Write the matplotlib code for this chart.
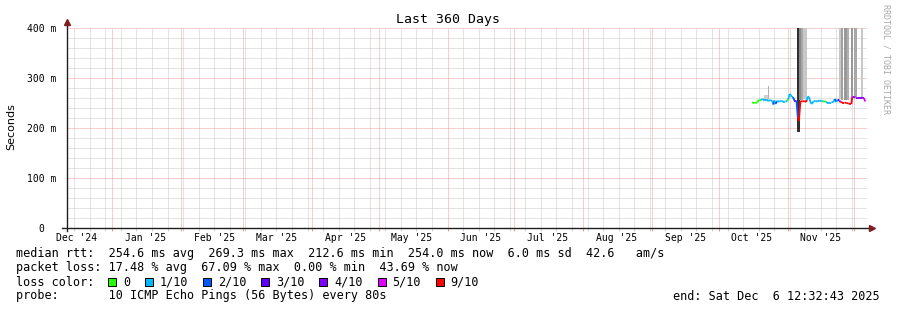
import datetime as dt
import matplotlib
matplotlib.use("Agg")
import matplotlib.pyplot as plt
import matplotlib.dates as mdates
from matplotlib.patches import Rectangle
from matplotlib.lines import Line2D

# graph window
start = dt.datetime(2024, 12, 11, 12, 32, 43)
end = dt.datetime(2025, 12, 6, 12, 32, 43)
data_base = dt.datetime(2025, 10, 1)

# median rtt: days after Oct 1 2025, value in ms, lost pings (of 10)
med_day = [15.0, 16.1, 17.4, 18.0, 19.1, 19.7, 20.6, 21.5, 22.4, 23.3,
           24.2, 24.6, 25.1, 25.5, 26.4, 27.3, 28.2, 29.1, 30.0, 30.9,
           31.3, 32.0, 32.5, 32.9, 33.4, 34.1, 35.0, 35.6, 36.1, 36.8,
           37.7, 38.6, 39.3, 39.7, 40.1, 40.6, 41.3, 41.9, 42.6, 43.5,
           44.4, 45.3, 46.2, 46.9, 47.6, 48.3, 48.9, 49.8, 50.7, 51.6,
           52.3, 53.0, 53.6, 54.3, 54.8, 55.7, 56.6, 57.5, 58.4, 59.3,
           59.7, 60.1, 60.7, 61.6, 62.5, 63.4, 64.3, 65.0, 65.4, 65.9]
med_ms = [251, 250, 251, 256, 256, 258, 255, 257, 254, 256,
          254, 247, 255, 248, 254, 253, 254, 253, 253, 254,
          258, 268, 266, 262, 262, 255, 255, 222, 214, 254,
          253, 254, 252, 256, 263, 262, 252, 248, 253, 254,
          253, 255, 254, 253, 254, 252, 251, 251, 251, 252,
          258, 252, 257, 255, 252, 251, 251, 250, 249, 248,
          248, 262, 262, 261, 261, 261, 261, 260, 260, 253]
med_loss = [0, 0, 0, 0, 1, 1, 1, 1, 1, 1,
            1, 2, 1, 2, 1, 1, 1, 1, 1, 0,
            1, 1, 1, 1, 2, 3, 2, 9, 9, 9,
            9, 9, 9, 1, 1, 1, 1, 1, 1, 1,
            1, 1, 1, 0, 0, 1, 1, 1, 1, 1,
            2, 1, 3, 4, 9, 9, 9, 9, 9, 9,
            9, 5, 4, 4, 4, 4, 4, 4, 5, 5]

# smoke (ping spread) bands
smoke_from = [20.6, 22.3, 35.3, 36.3, 37.1, 38.1, 54.3, 55.1, 56.6, 57.9, 59.6, 61.1, 64.1]
smoke_to = [22.0, 22.6, 36.4, 37.1, 38.1, 39.6, 55.1, 56.1, 57.6, 58.7, 60.6, 62.1, 65.1]
smoke_low = [257, 258, 193, 256, 256, 258, 258, 256, 256, 256, 262, 262, 262]
smoke_high = [266, 285, 420, 420, 420, 420, 420, 420, 420, 420, 420, 420, 420]
smoke_shade = ["#d0d0d0", "#b0b0b0", "#303030", "#8a8a8a", "#a8a8a8", "#c8c8c8",
               "#c8c8c8", "#a0a0a0", "#999999", "#b0b0b0", "#999999", "#a8a8a8", "#c8c8c8"]

loss_steps = [0, 1, 2, 3, 4, 5, 9]
loss_labels = ["0", "1/10", "2/10", "3/10", "4/10", "5/10", "9/10"]
loss_colors = ["#26ff00", "#00b8ff", "#0059ff", "#5e00ff", "#7e00ff", "#dd00ff", "#ff0000"]

month_names = ["Dec '24", "Jan '25", "Feb '25", "Mar '25", "Apr '25", "May '25",
               "Jun '25", "Jul '25", "Aug '25", "Sep '25", "Oct '25", "Nov '25"]

mono = "DejaVu Sans Mono"
W, H = 897, 310
fig = plt.figure(figsize=(W / 100, H / 100), dpi=100)
ax = fig.add_axes([66.5 / W, 82 / H, 800 / W, 200 / H])

color_of = dict(zip(loss_steps, loss_colors))

# smoke
for f, t, lo, hi, c in zip(smoke_from, smoke_to, smoke_low, smoke_high, smoke_shade):
    x0 = mdates.date2num(data_base + dt.timedelta(days=f))
    x1 = mdates.date2num(data_base + dt.timedelta(days=t))
    ax.bar(x0, hi - lo, width=x1 - x0, bottom=lo, align="edge", color=c,
           linewidth=0, zorder=2)

# median line coloured by loss
times = [data_base + dt.timedelta(days=d) for d in med_day]
for i in range(len(times) - 1):
    ax.plot(times[i:i + 2], med_ms[i:i + 2], color=color_of[med_loss[i]],
            lw=1.3, solid_capstyle="butt", zorder=3)

ax.set_xlim(start, end)
ax.set_ylim(0, 400)

grid_c = "#c8c8c8"
mgrid_c = "#f39c9c"
dots = (0, (1, 1))
ax.xaxis.set_major_locator(mdates.MonthLocator())
ax.xaxis.set_minor_locator(mdates.WeekdayLocator(byweekday=mdates.SU))
ax.set_yticks([0, 100, 200, 300, 400])
ax.set_yticks(range(20, 400, 20), minor=True)
ax.set_xticklabels([])
ax.set_yticklabels(["0  ", "100 m", "200 m", "300 m", "400 m"], family=mono, fontsize=7)
ax.grid(which="minor", color=grid_c, linestyle=dots, lw=0.72, zorder=0)
ax.grid(which="major", color=mgrid_c, linestyle=dots, lw=0.72, zorder=1)
ax.set_axisbelow(True)
ax.tick_params(axis="x", which="major", length=2, color=mgrid_c, direction="out")
ax.tick_params(axis="x", which="minor", length=2, color=grid_c, direction="out")
ax.tick_params(axis="y", which="both", length=0, pad=7)

for s in ax.spines.values():
    s.set_visible(False)

# axes with arrows
axis_c = "#1f1f1f"
arrow_c = "#7f1f1f"
tr = ax.transAxes
ax.add_line(Line2D([0, 0], [-0.015, 1.025], transform=tr, color=axis_c, lw=1, clip_on=False))
ax.add_line(Line2D([-0.006, 1.004], [0, 0], transform=tr, color=axis_c, lw=1, clip_on=False))
ax.plot([0], [1.03], marker="^", ms=4, color=arrow_c, transform=tr, clip_on=False)
ax.plot([1.007], [0], marker=">", ms=4, color=arrow_c, transform=tr, clip_on=False)

# month labels, centred mid-month
m_year, m_month = 2024, 12
for name in month_names:
    pos = dt.datetime(m_year, m_month, 16)
    ax.text(pos, -0.048, name, transform=ax.get_xaxis_transform(), ha="center",
            va="center", family=mono, fontsize=7)
    m_month += 1
    if m_month > 12:
        m_month, m_year = 1, m_year + 1

fig.text(448 / W, 1 - 19 / H, "Last 360 Days", family=mono, fontsize=9.5,
         ha="center", va="center")
fig.text(11 / W, 1 - 127 / H, "Seconds", rotation=90, fontsize=8,
         ha="center", va="center")
fig.text(886 / W, 1 - 59 / H, "RRDTOOL / TOBI OETIKER", rotation=270, family=mono,
         fontsize=6, color="#a8a8a8", ha="center", va="center")

lx = 16 / W
fs = 8.5
fig.text(lx, 1 - 254 / H,
         "median rtt:  254.6 ms avg  269.3 ms max  212.6 ms min  254.0 ms now  6.0 ms sd  42.6   am/s",
         family=mono, fontsize=fs, va="center")
fig.text(lx, 1 - 268 / H,
         "packet loss: 17.48 % avg  67.09 % max  0.00 % min  43.69 % now",
         family=mono, fontsize=fs, va="center")
fig.text(lx, 1 - 282 / H, "loss color:", family=mono, fontsize=fs, va="center")
bx = 108.3
for lab, c in zip(loss_labels, loss_colors):
    fig.patches.append(Rectangle((bx / W, 1 - 286 / H), 8 / W, 8 / H, transform=fig.transFigure,
                                 facecolor=c, edgecolor="black", lw=0.7, figure=fig))
    fig.text((bx + 15) / W, 1 - 282 / H, lab, family=mono, fontsize=fs, va="center")
    bx = bx + 15 + len(lab) * 7.13 + 14.6
fig.text(lx, 1 - 296 / H, "probe:       10 ICMP Echo Pings (56 Bytes) every 80s",
         family=mono, fontsize=fs, va="center")
fig.text(880 / W, 1 - 296 / H, "end: Sat Dec  6 12:32:43 2025",
         family=mono, fontsize=fs, va="center", ha="right")

fig.savefig("out.png", dpi=100)
